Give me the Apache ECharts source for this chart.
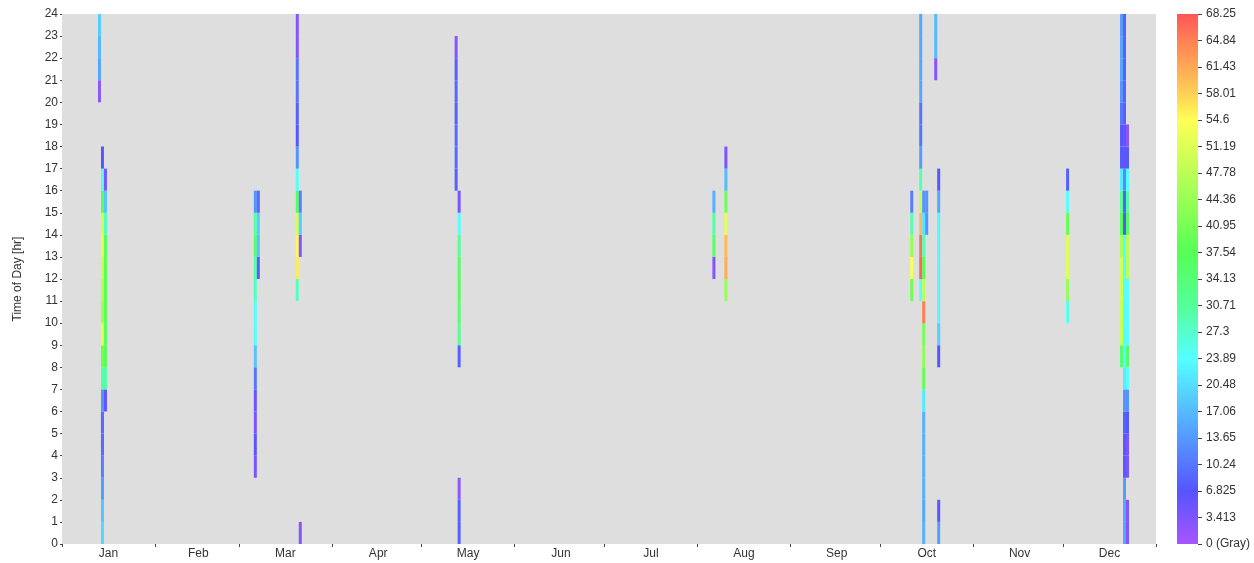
<!DOCTYPE html>
<html><head><meta charset="utf-8">
<script src="https://cdn.jsdelivr.net/npm/echarts@6/dist/echarts.min.js"></script>
<style>html,body{margin:0;padding:0;background:#fff}#c{width:1254px;height:563px}</style>
</head><body><div id="c"></div>
<script>
// ---- axis data ----
const monthNames = ['Jan','Feb','Mar','Apr','May','Jun','Jul','Aug','Sep','Oct','Nov','Dec'];
const monthDays = [31,28,31,30,31,30,31,31,30,31,30,31];
const hourTicks = [0,1,2,3,4,5,6,7,8,9,10,11,12,13,14,15,16,17,18,19,20,21,22,23,24];
const colorbarLabels = ['0 (Gray)','3.413','6.825','10.24','13.65','17.06','20.48','23.89','27.3','30.71','34.13','37.54','40.95','44.36','47.78','51.19','54.6','58.01','61.43','64.84','68.25'];
const valueMax = 68.25;
const colorStops = ['#a855ff','#7f55ff','#5555ff','#5577ff','#5599ff','#55bbff','#55ddff','#55ffff','#55ffcc','#55ff99','#55ff77','#55ff55','#77ff55','#99ff55','#bbff55','#ddff55','#ffff55','#ffd055','#ffa855','#ff8055','#ff5555'];

// ---- series data: one column per day; values listed upward from start hour ----
const columnDays      = [12, 13, 14, 64, 65, 78, 79, 131, 132, 217, 221, 283, 286, 287, 288, 291, 292, 335, 353, 354, 355];
const columnStartHour = [20,  0,  6,  3, 12, 11,  0,  16,   0,  12,  11,  11,  11,   0,  14,  21,   0,  10,   8,   0,   0];
const columnValues = [
  [2, 15, 17, 19],
  [20, 18, 14, 11, 9, 9, 13, 30, 40, 52, 45, 47, 49, 52, 50, 38, 26, 7],
  [6, 30, 38, 36, 38, 38, 38, 36, 28, 18, 4],
  [4, 6, 4, 5, 10, 18, 24, 24, 28, 30, 35, 30, 13],
  [8, 18, 19, 9],
  [28, 56, 55, 50, 37, 24, 13, 7, 8, 10, 10, 3, 3],
  [3, null, null, null, null, null, null, null, null, null, null, null, null, 3, 19, 11],
  [8, 9, 9, 8, 9, 8, 3],
  [8, 8, 2, null, null, null, null, null, 8, 32, 35, 37, 36, 31, 24, 4],
  [3, 36, 30, 16],
  [44, 61, 60, 52, 40, 17, 4],
  [40, 54, 44, 29, 11],
  [24, 67, 66, 60, 48, 29, 14, 10, 10, 15, 15, 15, 15],
  [16, 15, 16, 16, 16, 16, 22, 39, 43, 41, 65, 48, 38, 29, 21, 13],
  [13, 13],
  [3, 17, 17],
  [14, 7, null, null, null, null, null, null, 7, 19, 23, 23, 23, 23, 23, 15, 7],
  [25, 44, 51, 51, 39, 24, 8],
  [35, 49, 49, 50, 50, 46, 37, 31, 22, 7, 7, 10, 13, 15, 15, 14],
  [15, 15, 14, 6, 6, 8, 13, 22, 24, 24, 24, 24, 24, 24, 7, 8, 12, 6, 6, 8, 8, 8, 8, 8],
  [3, 3, null, 4, 4, 7, 13, 24, 36, 24, 24, 24, 48, 48, 36, 30, 24, 7, 2]
];

// ---- build ----
const monthStarts = [];
const monthMids = {};
let acc = 0;
monthDays.forEach((n, i) => { monthStarts.push(acc); monthMids[acc + Math.floor(n / 2)] = monthNames[i]; acc += n; });
const dayCategories = [];
for (let i = 0; i < acc; i++) dayCategories.push(i);

const cells = [];
columnDays.forEach((d, k) => {
  columnValues[k].forEach((v, j) => {
    if (v !== null) cells.push([d, columnStartHour[k] + j, v]);
  });
});

const gradStops = colorStops.map((c, i) => ({ offset: i / (colorStops.length - 1), color: c }));
const font = 'Liberation Sans, Arial, sans-serif';

const chart = echarts.init(document.getElementById('c'), null, { renderer: 'canvas' });
chart.setOption({
  animation: false,
  backgroundColor: '#ffffff',
  grid: [
    { left: 62, right: 98, top: 14, bottom: 19, show: true, backgroundColor: '#dedede', borderWidth: 0 },
    { left: 1177, width: 21, top: 14, bottom: 19, show: false }
  ],
  xAxis: [
    {
      type: 'category', gridIndex: 0, data: dayCategories, boundaryGap: true,
      axisLine: { show: false },
      axisTick: { show: true, length: 3, lineStyle: { color: '#444' }, interval: (idx) => monthStarts.indexOf(idx) >= 0 },
      axisLabel: {
        interval: (idx) => monthMids[idx] !== undefined,
        formatter: (v, idx) => monthMids[idx] || '',
        color: '#333', fontSize: 12, fontFamily: font, margin: 4
      },
      splitLine: { show: false }
    },
    { type: 'category', gridIndex: 1, data: ['c'], show: false }
  ],
  yAxis: [
    {
      type: 'value', gridIndex: 0, min: hourTicks[0], max: hourTicks[hourTicks.length - 1], interval: 1,
      name: 'Time of Day [hr]', nameLocation: 'middle', nameGap: 38,
      nameTextStyle: { color: '#333', fontSize: 12, fontFamily: font },
      axisLine: { show: false },
      axisTick: { show: true, length: 2, lineStyle: { color: '#444' } },
      axisLabel: { color: '#333', fontSize: 12, fontFamily: font, margin: 4 },
      splitLine: { show: false }
    },
    {
      type: 'value', gridIndex: 1, min: 0, max: valueMax, interval: valueMax / 20, position: 'right',
      axisLine: { show: false },
      axisTick: { show: true, length: 4, lineStyle: { color: '#444' } },
      axisLabel: {
        color: '#333', fontSize: 12, fontFamily: font, margin: 8,
        formatter: (v) => colorbarLabels[Math.round(v / (valueMax / 20))]
      },
      splitLine: { show: false }
    }
  ],
  visualMap: {
    show: false, type: 'continuous', min: 0, max: valueMax, dimension: 2, seriesIndex: 0,
    inRange: { color: colorStops }
  },
  series: [
    {
      type: 'custom', xAxisIndex: 0, yAxisIndex: 0, data: cells,
      encode: { x: 0, y: 1 },
      renderItem: (params, api) => {
        const d = api.value(0), h = api.value(1);
        const p0 = api.coord([d, h]);
        const p1 = api.coord([d, h + 1]);
        const w = api.size([1, 0])[0];
        return { type: 'rect', shape: { x: p0[0] - w / 2, y: p1[1], width: w, height: p0[1] - p1[1] }, style: { fill: api.visual('color') } };
      }
    },
    {
      type: 'bar', xAxisIndex: 1, yAxisIndex: 1, data: [valueMax], barWidth: '100%', silent: true,
      itemStyle: { color: { type: 'linear', x: 0, y: 1, x2: 0, y2: 0, colorStops: gradStops } }
    }
  ]
});
</script></body></html>
